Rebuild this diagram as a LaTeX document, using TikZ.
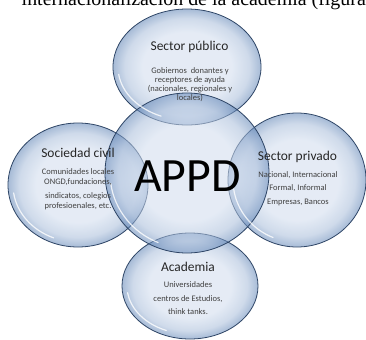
\documentclass[tikz,border=0pt]{standalone}
\usepackage{fontspec}
\setmainfont{Carlito}
\newfontfamily\bookserif{Liberation Serif}
\usetikzlibrary{shapes.geometric}
\definecolor{bubblein}{HTML}{D0DCEE}
\definecolor{bubblerim}{HTML}{5F84B6}
\definecolor{bubbleline}{HTML}{2E4566}
\pgfdeclareradialshading{bubbleshade}{\pgfpoint{0bp}{0bp}}{%
  color(0bp)=(bubblein); color(15bp)=(bubblein);
  color(21bp)=(bubblein!65!bubblerim); color(25bp)=(bubblerim);
  color(50bp)=(bubblerim)}
\tikzset{
  bubble/.style = {
    ellipse,
    inner sep=0pt,
    shade, shading=bubbleshade,
    fill opacity=0.55,
    draw=bubbleline, draw opacity=1,
    line width=0.8pt
  },
  glint/.style = {
    white,
    opacity=0.8,
    line width=1.2pt,
    line cap=round
  },
  title/.style = {
    font=\fontsize{13.5}{15}\selectfont,
    text=black!85
  },
  body/.style = {
    font=\fontsize{8.5}{9}\selectfont,
    align=center,
    text=black!75
  }
}

\begin{document}
\begin{tikzpicture}[x=1bp,y=-1bp]

      \useasboundingbox (0,0) rectangle (366,340);
      \clip (0,0) rectangle (366,340);
      \fill[white] (0,0) rectangle (366,340);

      \node[anchor=base east, inner sep=0pt, font=\bookserif\fontsize{20}{24}\selectfont] (heading) at (366,5)
        {internacionalización de la academia (figura};

      % the five bubbles
      \node[bubble, minimum width=148bp, minimum height=116bp] (publico) at (187,67) {};
      \node[bubble, minimum width=140bp, minimum height=124bp] (civil) at (78,185) {};
      \node[bubble, minimum width=138bp, minimum height=134bp] (privado) at (297,180) {};
      \node[bubble, minimum width=136bp, minimum height=106bp] (academia) at (190,286) {};
      \node[bubble, minimum width=164bp, minimum height=160bp] (appd) at (187,173) {};

      % light on the lower left rims
      \foreach \b/\rx/\ry in {publico/74/58, civil/70/62, privado/69/67, academia/68/53, appd/82/80}
        \draw[glint] ([shift={(172:{\rx-5} and {\ry-5})}]\b.center)
          arc[start angle=172, end angle=112, x radius=\rx-5, y radius=\ry-5];

      \node[font=\fontsize{48}{50}\selectfont] (appdlabel) at (187.5,176) {APPD};

      \node[title] (publicotitle) at (189.5,47) {Sector público};
      \node[body] (publicotext) at (190,85)
        {Gobiernos\ \ donantes y\\ receptores de ayuda\\ (nacionales, regionales y\\ locales)};

      \node[title] (civiltitle) at (78,153) {Sociedad civil};
      \node[body, font=\fontsize{8.5}{10}\selectfont] (civiltext) at (78,189)
        {Comunidades locales\\ ONGD,fundaciones,\\[4pt] sindicatos, colegios\\ profesioenales, etc.};

      \node[title] (privadotitle) at (297.5,157) {Sector privado};
      \node[body, font=\fontsize{8.5}{13.5}\selectfont] (privadotext) at (298,188.5)
        {Nacional, Internacional\\ Formal, Informal\\ Empresas, Bancos};

      \node[title] (academiatitle) at (188,267) {Academia};
      \node[body, font=\fontsize{8.5}{13.5}\selectfont] (academiatext) at (188,298.5)
        {Universidades\\ centros de Estudios,\\ think tanks.};

    \end{tikzpicture}
\end{document}
